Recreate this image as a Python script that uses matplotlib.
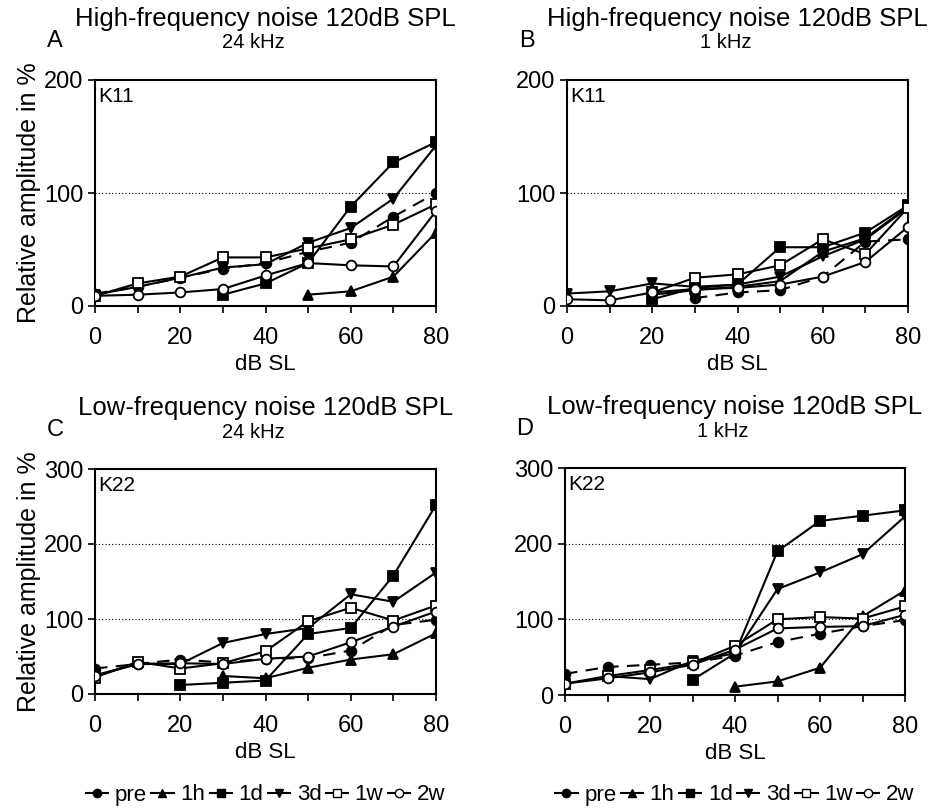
import numpy as np
import matplotlib
matplotlib.use("Agg")
from matplotlib import pyplot as plt
from matplotlib.lines import Line2D

plt.rcParams['font.family'] = ['Liberation Sans', 'DejaVu Sans']

nan = np.nan
db = [0, 10, 20, 30, 40, 50, 60, 70, 80]
labels = ['pre', '1h', '1d', '3d', '1w', '2w']

# A: high-frequency noise, 24 kHz
a_pre = [11, 17, 25, 33, 38, 48, 56, 79, 100]
a_1h = [nan, nan, nan, nan, nan, 10, 13, 26, 65]
a_1d = [nan, nan, nan, 10, 20, 38, 88, 127, 145]
a_3d = [10, 17, 25, 34, 37, 56, 69, 95, 142]
a_1w = [9, 20, 26, 43, 43, 51, 59, 72, 90]
a_2w = [9, 10, 12, 15, 27, 38, 36, 35, 84]

# B: high-frequency noise, 1 kHz
b_pre = [nan, nan, nan, 7, 12, 14, 26, 57, 59]
b_1h = [nan, nan, 10, 14, 17, 22, 48, 60, 88]
b_1d = [nan, nan, 6, 16, 19, 52, 52, 65, 89]
b_3d = [11, 13, 20, 17, 19, 26, 44, 59, 87]
b_1w = [nan, nan, 12, 25, 28, 36, 59, 46, 87]
b_2w = [6, 5, 12, 15, 16, 19, 26, 39, 70]

# C: low-frequency noise, 24 kHz
c_pre = [34, 40, 46, 42, 47, 48, 58, 92, 99]
c_1h = [nan, nan, nan, 24, 21, 35, 46, 53, 81]
c_1d = [nan, nan, 12, 15, 18, 80, 88, 158, 252]
c_3d = [25, 40, 40, 68, 80, 88, 133, 123, 162]
c_1w = [22, 43, 34, 41, 57, 97, 115, 98, 118]
c_2w = [24, 40, 41, 40, 47, 50, 69, 90, 110]

# D: low-frequency noise, 1 kHz
d_pre = [28, 37, 40, 43, 52, 70, 81, 91, 99]
d_1h = [nan, nan, nan, nan, 11, 18, 36, 104, 138]
d_1d = [nan, nan, nan, 20, 55, 190, 230, 237, 244]
d_3d = [nan, 25, 21, 45, 55, 140, 162, 186, 236]
d_1w = [15, 25, 33, 42, 65, 100, 103, 101, 117]
d_2w = [15, 22, 30, 40, 60, 88, 90, 91, 106]

styles = {
    'pre': dict(marker='o', mfc='black', ls=(0, (6, 4))),
    '1h': dict(marker='^', mfc='black', ls='-'),
    '1d': dict(marker='s', mfc='black', ls='-'),
    '3d': dict(marker='v', mfc='black', ls='-'),
    '1w': dict(marker='s', mfc='white', ls='-'),
    '2w': dict(marker='o', mfc='white', ls='-'),
}

W, H = 931, 810
fig = plt.figure(figsize=(W / 100, H / 100), dpi=100)


def box(l, t, r, b):
    return [l / W, 1 - b / H, (r - l) / W, (b - t) / H]


panels = [
    (box(95, 80, 436, 306), [a_pre, a_1h, a_1d, a_3d, a_1w, a_2w], 200,
     'High-frequency noise 120dB SPL', '24 kHz', 'A', 'K11', True, False),
    (box(567, 80, 908, 306), [b_pre, b_1h, b_1d, b_3d, b_1w, b_2w], 200,
     'High-frequency noise 120dB SPL', '1 kHz', 'B', 'K11', False, False),
    (box(95, 469, 436, 694), [c_pre, c_1h, c_1d, c_3d, c_1w, c_2w], 300,
     'Low-frequency noise 120dB SPL', '24 kHz', 'C', 'K22', True, True),
    (box(565, 468, 905, 695), [d_pre, d_1h, d_1d, d_3d, d_1w, d_2w], 300,
     'Low-frequency noise 120dB SPL', '1 kHz', 'D', 'K22', False, True),
]

for rect, series, ymax, title, sub, letter, animal, left, bottom in panels:
    ax = fig.add_axes(rect)
    for name, vals in zip(labels, series):
        st = styles[name]
        ax.plot(db, vals, color='black', lw=1.5, ls=st['ls'], marker=st['marker'],
                mfc=st['mfc'], mec='black', mew=1.3, ms=7, zorder=3)
    ax.set_xlim(0, 80)
    ax.set_ylim(0, ymax)
    ax.set_xticks(range(0, 81, 20))
    ax.set_xticks(range(0, 81, 10), minor=True)
    ax.set_yticks(range(0, ymax + 1, 100))
    ax.tick_params(axis='both', labelsize=17, length=5, width=1.2, direction='out')
    ax.tick_params(axis='x', which='minor', length=5, width=1.2)
    ax.tick_params(axis='x', pad=10)
    for g in range(100, ymax, 100):
        ax.axhline(g, color='black', lw=0.8, ls=(0, (1, 2)), zorder=1)
    for sp in ax.spines.values():
        sp.set_linewidth(1.5)
    ax.set_xlabel('dB SL', fontsize=16, labelpad=4)
    if left:
        ax.set_ylabel('Relative amplitude in %', fontsize=18, labelpad=2)
    ax.text(0.01, 0.97, animal, transform=ax.transAxes, fontsize=15, va='top', ha='left')
    x0 = rect[0] + rect[2] / 2
    top = rect[1] + rect[3]
    fig.text(x0, top + 61 / H, title, ha='center', va='center', fontsize=18.5)
    fig.text(x0 - 12 / W, top + 37 / H, sub, ha='center', va='center', fontsize=14.5)
    fig.text(rect[0] - 40 / W, top + 39 / H, letter, ha='center', va='center', fontsize=17)

    if bottom:
        handles = [Line2D([], [], color='black', lw=1.5, marker=styles[n]['marker'],
                          mfc=styles[n]['mfc'], mec='black', ms=6) for n in labels]
        fig.legend(handles, labels, loc='center', bbox_to_anchor=(x0, 15 / H),
                   ncol=6, frameon=False, fontsize=16, handlelength=1.0,
                   handletextpad=0.3, columnspacing=0.2, borderpad=0)

fig.savefig('out.png', dpi=100)
